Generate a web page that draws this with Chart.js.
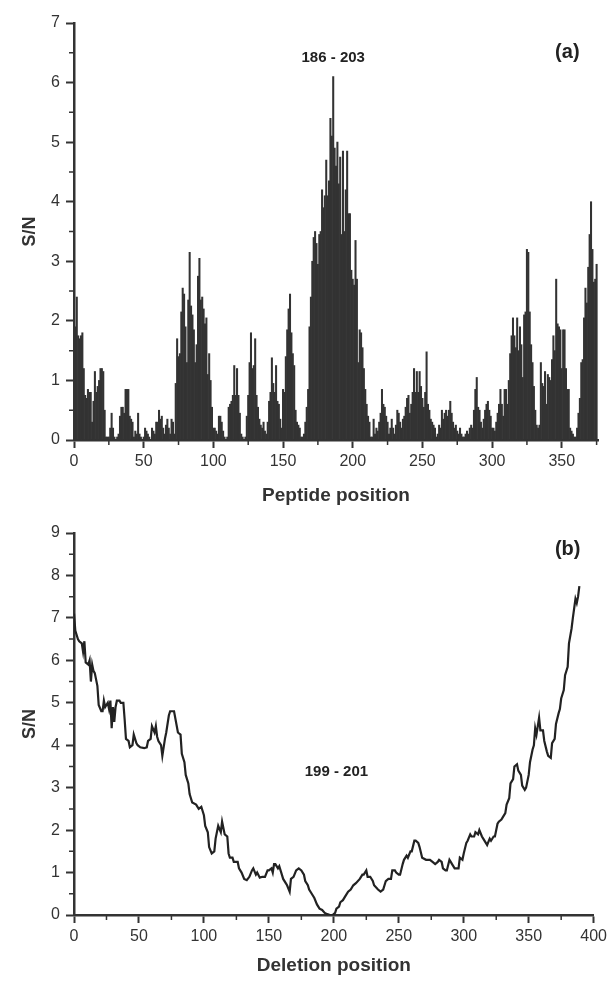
<!DOCTYPE html>
<html>
<head>
<meta charset="utf-8">
<script src="https://cdn.jsdelivr.net/npm/chart.js@4.4.1/dist/chart.umd.min.js"></script>
<style>
  html, body { margin: 0; padding: 0; background: #fff; }
  #wrap { position: relative; width: 611px; height: 981px; }
  canvas { position: absolute; left: 0; }
</style>
</head>
<body>
<div id="wrap">
  <canvas id="chartA" width="611" height="510" style="top:0"></canvas>
  <canvas id="chartB" width="611" height="471" style="top:510px"></canvas>
</div>
<script>
// (a) S/N per peptide position 1..375
var pepSN = [
  1.9, 2.4, 1.75, 1.7, 1.75, 1.8, 1.2, 0.75, 0.7, 0.85,
  0.8, 0.8, 0.3, 0.65, 1.15, 0.8, 0.9, 1.0, 1.2, 1.2,
  1.15, 0.5, 0.05, 0.05, 0.05, 0.2, 0.45, 0.2, 0.05, 0.0,
  0.05, 0.1, 0.4, 0.55, 0.55, 0.45, 0.85, 0.85, 0.85, 0.4,
  0.35, 0.3, 0.05, 0.15, 0.1, 0.45, 0.1, 0.05, 0.0, 0.05,
  0.2, 0.15, 0.1, 0.05, 0.0, 0.2, 0.15, 0.1, 0.3, 0.3,
  0.5, 0.35, 0.4, 0.2, 0.1, 0.25, 0.35, 0.2, 0.1, 0.35,
  0.3, 0.1, 0.95, 1.7, 1.4, 1.45, 2.15, 2.55, 2.45, 1.9,
  1.3, 2.35, 3.15, 2.25, 2.1, 1.85, 1.3, 1.6, 2.75, 3.05,
  2.35, 2.4, 2.2, 1.95, 2.05, 1.1, 1.45, 1.0, 0.55, 0.2,
  0.2, 0.15, 0.1, 0.4, 0.4, 0.3, 0.15, 0.05, 0.0, 0.05,
  0.55, 0.6, 0.65, 0.75, 1.25, 0.75, 1.2, 0.75, 0.45, 0.1,
  0.05, 0.0, 0.05, 0.4, 0.75, 1.3, 1.8, 1.2, 1.25, 1.7,
  0.75, 0.55, 0.35, 0.25, 0.2, 0.3, 0.15, 0.1, 0.3, 0.65,
  0.8, 1.38, 0.95, 0.8, 1.25, 0.65, 0.6, 0.35, 0.2, 0.85,
  0.8, 1.4, 1.85, 2.2, 2.45, 1.8, 1.45, 1.25, 0.5, 0.3,
  0.25, 0.2, 0.05, 0.05, 0.1, 0.3, 0.55, 0.85, 1.9, 2.4,
  3.0, 3.4, 3.5, 3.3, 2.95, 3.45, 3.5, 4.2, 3.9, 4.1,
  4.7, 4.1, 4.35, 5.4, 5.1, 6.1, 4.9, 4.6, 5.0, 4.3,
  4.75, 3.45, 4.85, 3.5, 4.2, 4.85, 3.8, 3.8, 2.85, 2.7,
  2.6, 3.35, 2.7, 1.3, 1.85, 1.8, 1.55, 1.2, 0.85, 0.6,
  0.4, 0.3, 0.05, 0.05, 0.35, 0.1, 0.2, 0.15, 0.3, 0.45,
  0.85, 0.6, 0.55, 0.4, 0.3, 0.1, 0.2, 0.35, 0.2, 0.1,
  0.25, 0.5, 0.45, 0.3, 0.2, 0.35, 0.4, 0.55, 0.7, 0.75,
  0.45, 0.6, 0.8, 1.2, 0.8, 1.15, 0.8, 1.15, 0.9, 0.7,
  0.55, 0.8, 1.48, 0.6, 0.5, 0.35, 0.3, 0.25, 0.2, 0.05,
  0.1, 0.25, 0.2, 0.5, 0.35, 0.45, 0.5, 0.4, 0.5, 0.65,
  0.45, 0.3, 0.2, 0.25, 0.15, 0.1, 0.2, 0.1, 0.05, 0.05,
  0.1, 0.15, 0.1, 0.2, 0.25, 0.2, 0.5, 0.85, 1.05, 0.55,
  0.5, 0.3, 0.2, 0.35, 0.5, 0.6, 0.65, 0.5, 0.4, 0.2,
  0.2, 0.15, 0.3, 0.45, 0.6, 0.85, 0.6, 0.4, 0.85, 0.85,
  0.6, 1.0, 1.45, 1.75, 2.05, 1.75, 1.55, 2.05, 1.5, 1.9,
  1.6, 1.05, 2.1, 2.15, 3.2, 3.15, 2.15, 1.6, 1.3, 0.9,
  0.5, 0.25, 0.2, 0.25, 1.3, 0.95, 0.9, 1.15, 0.6, 1.1,
  1.05, 1.0, 1.35, 1.75, 1.5, 2.7, 1.95, 1.9, 1.85, 1.2,
  1.85, 1.85, 1.2, 0.85, 0.85, 0.2, 0.15, 0.1, 0.05, 0.05,
  0.2, 0.45, 0.7, 1.3, 1.35, 2.05, 2.55, 2.3, 2.9, 3.45,
  4.0, 3.2, 2.65, 2.7, 2.95
];
var pepPos = pepSN.map(function (v, i) { return i + 1; });

// (b) S/N per deletion position
var delX = [0,1,3,4,6,7,8,9,11,12,13,14,15,16,18,19,21,22,23,24,
  26,27,28,29,30,31,32,33,35,36,38,39,40,42,43,45,46,48,49,51,
  54,56,57,59,60,62,63,64,65,67,68,70,71,73,74,77,80,82,83,85,
  86,88,89,91,94,96,98,100,101,103,104,106,108,109,111,113,114,116,118,119,
  120,122,123,126,127,129,131,133,135,137,138,140,141,143,145,147,149,150,152,153,
  154,155,157,158,160,161,163,164,166,167,169,171,173,175,177,178,180,181,183,185,
  187,189,191,193,195,197,199,201,202,204,205,207,209,211,213,215,217,220,222,223,
  225,226,228,230,231,234,236,238,240,242,244,245,247,248,250,251,253,254,256,257,
  259,260,262,263,265,266,268,271,274,276,278,280,281,283,284,286,287,289,290,291,
  293,294,296,297,299,300,302,303,305,306,308,309,311,312,314,315,317,318,320,321,
  323,324,326,327,329,330,332,333,335,336,338,339,341,342,344,345,347,348,350,351,
  353,354,355,356,357,358,359,361,362,364,365,367,368,370,371,373,374,375,377,378,
  380,381,383,384,386,387,388,389];
var delSN = [7.1,6.7,6.5,6.45,6.4,6.2,6.45,5.95,5.9,6.0,5.5,5.9,5.75,5.7,5.4,4.95,4.8,4.8,5.05,4.9,
  5.0,4.85,5.05,4.4,4.9,4.55,4.9,5.05,5.05,5.0,5.0,4.6,4.15,4.1,3.95,4.0,4.25,4.05,4.0,3.95,
  3.93,3.95,4.1,4.15,4.45,4.3,4.45,4.2,4.1,4.0,3.75,4.15,4.3,4.7,4.8,4.8,4.3,4.25,3.8,3.6,
  3.3,3.1,2.85,2.65,2.6,2.5,2.55,2.35,2.1,1.95,1.6,1.45,1.5,1.8,2.1,1.95,2.2,1.9,1.85,1.45,
  1.35,1.35,1.25,1.25,1.1,1.0,0.85,0.82,0.9,1.05,1.1,0.95,1.0,0.88,0.9,0.9,1.05,1.05,1.1,1.0,
  1.2,1.2,1.1,1.15,0.95,0.85,0.75,0.7,0.55,0.85,0.9,1.05,1.1,1.05,0.95,0.8,0.7,0.6,0.5,0.4,
  0.25,0.15,0.12,0.05,0.02,0.0,0.0,0.05,0.15,0.2,0.3,0.35,0.45,0.55,0.6,0.7,0.75,0.85,0.95,0.95,
  1.05,0.9,0.9,0.8,0.7,0.6,0.55,0.6,0.8,0.85,0.85,1.05,1.05,1.0,0.95,0.95,1.2,1.3,1.4,1.35,
  1.5,1.5,1.75,1.75,1.7,1.6,1.35,1.3,1.3,1.25,1.2,1.25,1.3,1.25,1.1,1.05,1.05,1.3,1.25,1.2,
  1.1,1.1,1.1,1.35,1.3,1.45,1.7,1.75,1.9,1.85,1.85,1.95,1.9,2.0,1.85,1.8,1.7,1.65,1.8,1.75,
  1.85,1.85,2.15,2.2,2.25,2.3,2.4,2.6,2.75,3.1,3.2,3.5,3.55,3.4,3.3,3.05,2.95,3.0,3.3,3.6,
  3.9,4.0,4.4,4.25,4.45,4.65,4.35,4.35,4.1,3.85,3.75,3.7,4.05,4.15,4.5,4.75,4.85,5.1,5.3,5.65,
  5.85,6.4,6.75,7.0,7.45,7.35,7.5,7.75];

var ink = '#333';
var fam = '"Liberation Sans", Arial, sans-serif';
var tickFont = { family: fam, size: 16 };

// minor ticks + text labels placed in data units
var extras = {
  id: 'extras',
  afterDraw: function (chart, args, o) {
    var ctx = chart.ctx, a = chart.chartArea, x = chart.scales.x, y = chart.scales.y;
    ctx.save();
    ctx.strokeStyle = ink;
    ctx.lineWidth = 1.5;
    ctx.beginPath();
    for (var v = o.minorX; v < x.max; v += o.minorX * 2) {
      var px = x.getPixelForValue(v);
      ctx.moveTo(px, a.bottom);
      ctx.lineTo(px, a.bottom + 5);
    }
    for (var w = 0.5; w < y.max; w += 1) {
      var py = y.getPixelForValue(w);
      ctx.moveTo(a.left - 5, py);
      ctx.lineTo(a.left, py);
    }
    ctx.stroke();
    ctx.fillStyle = '#222';
    ctx.textAlign = 'center';
    ctx.textBaseline = 'middle';
    o.notes.forEach(function (n) {
      ctx.font = n.font;
      ctx.fillText(n.text, x.getPixelForValue(n.x), y.getPixelForValue(n.y));
    });
    ctx.restore();
  }
};

function axes(xMax, xStep, yMax, axisH, titlePad, xTitle) {
  return {
    x: {
      type: 'linear', min: 0, max: xMax, offset: false, z: 1,
      afterBuildTicks: function (s) {
        var t = [];
        for (var v = 0; v <= xMax; v += xStep) t.push({ value: v });
        s.ticks = t;
      },
      afterFit: function (s) { s.height = axisH; },
      ticks: { stepSize: xStep, color: ink, font: tickFont, padding: 4, maxRotation: 0, autoSkip: false },
      grid: { drawOnChartArea: false, offset: false, tickLength: 8, tickWidth: 2, tickColor: ink },
      border: { color: ink, width: 2.5 },
      title: { display: true, text: xTitle, color: ink, font: { family: fam, size: 19, weight: 'bold' }, padding: { top: 0, bottom: titlePad } }
    },
    y: {
      min: 0, max: yMax, z: 1,
      afterFit: function (s) { s.width = 74; },
      ticks: { stepSize: 1, color: ink, font: tickFont, padding: 6 },
      grid: { drawOnChartArea: false, tickLength: 8, tickWidth: 2, tickColor: ink },
      border: { color: ink, width: 2.5 },
      title: { display: true, text: 'S/N', color: ink, font: { family: fam, size: 18, weight: 'bold' }, padding: { top: 19, bottom: 0 } }
    }
  };
}

new Chart(document.getElementById('chartA').getContext('2d'), {
  type: 'bar',
  data: {
    datasets: [{
      data: pepPos.map(function (p, i) { return { x: p, y: pepSN[i] }; }),
      backgroundColor: '#333',
      borderWidth: 0,
      barPercentage: 1,
      categoryPercentage: 1
    }]
  },
  options: {
    responsive: false,
    animation: false,
    layout: { padding: { top: 23, right: 13, left: 0, bottom: 0 } },
    plugins: {
      legend: { display: false },
      tooltip: { enabled: false },
      extras: {
        minorX: 25,
        notes: [
          { text: '186 - 203', x: 186, y: 6.42, font: 'bold 15px ' + fam },
          { text: '(a)', x: 354, y: 6.5, font: 'bold 20px ' + fam }
        ]
      }
    },
    scales: axes(376, 50, 7, 70, 3, 'Peptide position')
  },
  plugins: [extras]
});

new Chart(document.getElementById('chartB').getContext('2d'), {
  type: 'line',
  data: {
    datasets: [{
      data: delX.map(function (p, i) { return { x: p, y: delSN[i] }; }),
      borderColor: '#222',
      borderWidth: 2.2,
      pointRadius: 0,
      tension: 0,
      fill: false
    }]
  },
  options: {
    responsive: false,
    animation: false,
    layout: { padding: { top: 23, right: 0, left: 0, bottom: 0 } },
    plugins: {
      legend: { display: false },
      tooltip: { enabled: false },
      extras: {
        minorX: 25,
        notes: [
          { text: '199 - 201', x: 202, y: 3.37, font: 'bold 15px ' + fam },
          { text: '(b)', x: 380, y: 8.62, font: 'bold 20px ' + fam }
        ]
      }
    },
    scales: axes(400, 50, 9, 66, 4, 'Deletion position')
  },
  plugins: [extras]
});
</script>
</body>
</html>
